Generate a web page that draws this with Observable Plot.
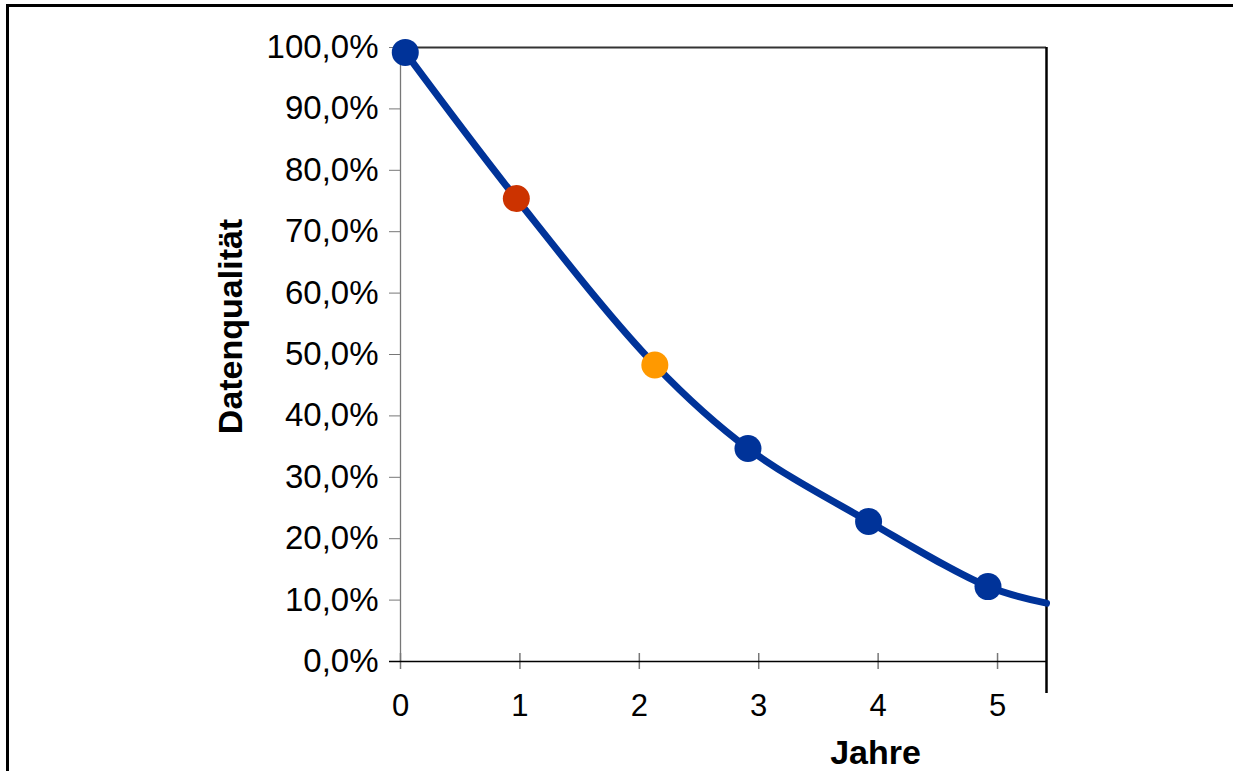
<!DOCTYPE html>
<html>
<head>
<meta charset="utf-8">
<script src="https://cdn.jsdelivr.net/npm/d3@7"></script>
<script src="https://cdn.jsdelivr.net/npm/@observablehq/plot@0.6"></script>
<style>
  html, body { margin: 0; padding: 0; background: #fff; overflow: hidden; }
  #page { position: relative; width: 1233px; height: 771px; }
  #chart { position: absolute; left: 0; top: 0; }
  #frame {
    position: absolute; left: 6px; top: 4px; right: -10px; bottom: -10px;
    border-left: 3px solid #000; border-top: 3px solid #000; pointer-events: none;
  }
</style>
</head>
<body>
<div id="page"><div id="chart"></div><div id="frame"></div></div>
<script>
// Measured data quality per year
const years   = [0.04, 0.97, 2.13, 2.91, 3.92, 4.92];
const quality = [99.2, 75.4, 48.3, 34.7, 22.8, 12.2];
const pointColors = ["#003399", "#cc3300", "#ff9900", "#003399", "#003399", "#003399"];

// Trend curve continues to the right edge of the plot
const curveYears   = [...years, 5.41];
const curveQuality = [...quality, 9.5];

const xTicks = [0, 1, 2, 3, 4, 5];
const yTicks = [0, 10, 20, 30, 40, 50, 60, 70, 80, 90, 100];
const xMax = 5.41;

const points = years.map((x, i) => ({x, y: quality[i], color: pointColors[i]}));
const curve = curveYears.map((x, i) => ({x, y: curveQuality[i]}));

const fmtPct = d => d.toFixed(1).replace(".", ",") + "%";
const font = "'Liberation Sans', Arial, Helvetica, sans-serif";

const chart = Plot.plot({
  width: 1233,
  height: 771,
  marginLeft: 400,
  marginRight: 187,
  marginTop: 47,
  marginBottom: 110,
  style: {fontFamily: font, background: "transparent", color: "#000", overflow: "visible"},
  x: {domain: [0, xMax]},
  y: {domain: [0, 100]},
  color: {type: "identity"},
  marks: [
    // y axis line and ticks
    Plot.ruleX([0], {stroke: "#777", strokeWidth: 1.3}),
    Plot.axisY({ticks: yTicks, tickFormat: fmtPct, tickSize: 11, tickPadding: 11,
                stroke: "#777", fill: "#000", fontSize: 33, label: null}),
    // x axis labels
    Plot.axisX({ticks: xTicks, tickFormat: d => String(d), tickSize: 0, tickPadding: 32,
                fill: "#000", fontSize: 31, label: null}),
    // x ticks crossing the baseline
    Plot.ruleX(xTicks, {x: d => d, y1: 0, y2: 0, insetTop: -8, insetBottom: -8,
                        stroke: "#777", strokeWidth: 1.5}),
    // baseline, top and right border of the plot
    Plot.ruleY([0], {stroke: "#000", strokeWidth: 1.5, insetLeft: -11}),
    Plot.ruleY([100], {stroke: "#333", strokeWidth: 2}),
    Plot.ruleX([xMax], {stroke: "#000", strokeWidth: 2.5, insetBottom: -32}),
    // axis titles
    Plot.text(["Jahre"], {frameAnchor: "bottom", text: d => d, dx: 152, dy: 102,
                          lineAnchor: "bottom", fontSize: 34, fontWeight: "bold", fill: "#000"}),
    Plot.text(["Datenqualität"], {frameAnchor: "left", text: d => d, rotate: -90,
                                  textAnchor: "middle", dx: -159, dy: -28, lineAnchor: "bottom",
                                  fontSize: 34, fontWeight: "bold", fill: "#000"}),
    // decay curve and measurement points
    Plot.line(curve, {x: "x", y: "y", curve: "catmull-rom", stroke: "#003399",
                      strokeWidth: 7, strokeLinecap: "round"}),
    Plot.dot(points, {x: "x", y: "y", r: 13.5, fill: "color", stroke: null})
  ]
});

document.getElementById("chart").appendChild(chart);
</script>
</body>
</html>
